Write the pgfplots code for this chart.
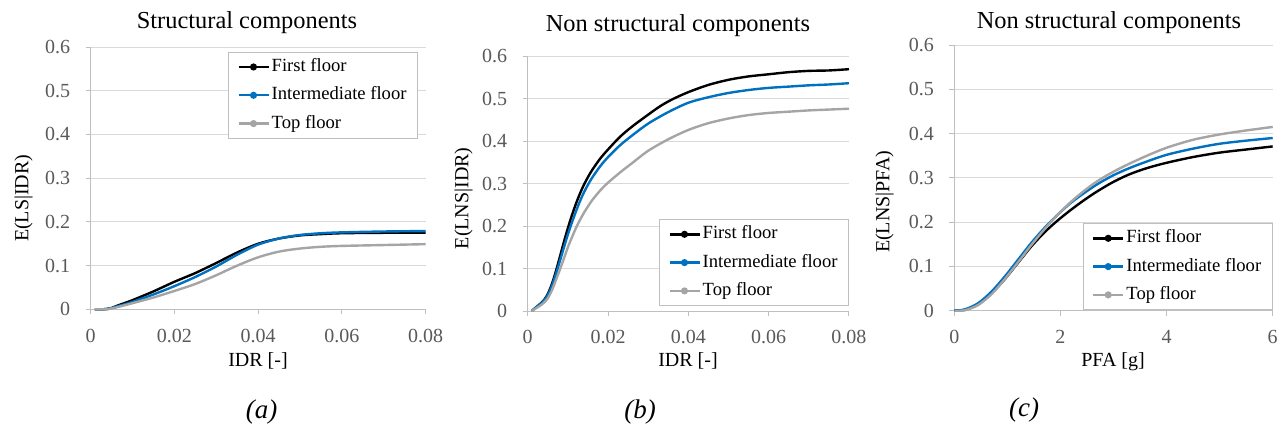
\documentclass[border=0pt]{standalone}
\usepackage{fontspec}
\setmainfont{Liberation Serif}
\usepackage{pgfplots}
\pgfplotsset{compat=1.18}
\definecolor{cblack}{HTML}{000000}
\definecolor{cblue}{HTML}{0070C0}
\definecolor{cgray}{HTML}{A5A5A5}
\definecolor{axgray}{HTML}{BFBFBF}
\definecolor{gridgray}{HTML}{D9D9D9}
\definecolor{ticklab}{HTML}{595959}

\pgfplotsset{
  panel/.style={
    scale only axis, anchor=south west,
    axis x line*=bottom, axis y line*=left,
    axis line style={draw=axgray, line width=1pt, -},
    ymin=0, ymax=0.6,
    ytick={0,0.1,0.2,0.3,0.4,0.5,0.6},
    yticklabels={0,0.1,0.2,0.3,0.4,0.5,0.6},
    scaled x ticks=false, scaled y ticks=false,
    ymajorgrids, grid style={draw=gridgray, line width=1pt},
    tick align=outside, major tick length=5pt,
    tick style={draw=axgray, line width=1pt},
    every tick label/.append style={font=\fontsize{20}{22}\selectfont, text=ticklab},
    yticklabel style={xshift=-12pt},
    xticklabel style={yshift=-11pt},
    /pgf/number format/assume math mode=true,
    clip=false,
    legend cell align=left,
    legend image code/.code={\draw[#1] (0pt,0pt) -- (30pt,0pt); \fill[#1] (15pt,0pt) circle (2.3pt);},
    legend style={draw=axgray, line width=1pt, fill=white, font=\fontsize{18.6}{20}\selectfont,
      inner xsep=9pt, inner ysep=3pt, row sep=5.3pt,
      nodes={inner ysep=3pt, inner xsep=2pt, text height=13pt, text depth=4pt}},
    every axis plot/.append style={line width=2.4pt, smooth},
  },
}

\begin{document}
\begin{tikzpicture}
\useasboundingbox (0,0) rectangle (1285pt,429pt);

% ---------------- (a)
\begin{axis}[panel, at={(90.7pt,119.7pt)}, width=335pt, height=262.3pt,
  xmin=0, xmax=0.08, xtick={0,0.02,0.04,0.06,0.08}, xticklabels={0,0.02,0.04,0.06,0.08},
  legend style={at={(0.977,0.981)}, anchor=north east}]
\addplot[color=cblack] coordinates {(0.001,0)(0.002,0)(0.003,0)(0.004,0.001)(0.005,0.003)(0.006,0.007)(0.008,0.014)(0.010,0.021)(0.015,0.041)(0.020,0.063)(0.025,0.083)(0.030,0.106)(0.035,0.13)(0.040,0.15)(0.045,0.162)(0.050,0.169)(0.055,0.172)(0.060,0.174)(0.070,0.175)(0.080,0.175)};
\addlegendentry{First floor}
\addplot[color=cblue] coordinates {(0.001,0)(0.002,0)(0.003,0)(0.004,0.001)(0.005,0.003)(0.006,0.006)(0.008,0.011)(0.010,0.017)(0.015,0.034)(0.020,0.053)(0.025,0.074)(0.030,0.098)(0.035,0.125)(0.040,0.148)(0.045,0.162)(0.050,0.17)(0.055,0.174)(0.060,0.176)(0.070,0.178)(0.080,0.179)};
\addlegendentry{Intermediate floor}
\addplot[color=cgray] coordinates {(0.001,0)(0.002,0)(0.003,0)(0.004,0)(0.005,0.002)(0.006,0.004)(0.008,0.009)(0.010,0.014)(0.015,0.027)(0.020,0.042)(0.025,0.058)(0.030,0.078)(0.035,0.1)(0.040,0.119)(0.045,0.132)(0.050,0.139)(0.055,0.143)(0.060,0.145)(0.070,0.147)(0.080,0.149)};
\addlegendentry{Top floor}
\end{axis}

% ---------------- (b)
\begin{axis}[panel, at={(527.7pt,118pt)}, width=321.3pt, height=255pt,
  xmin=0, xmax=0.08, xtick={0,0.02,0.04,0.06,0.08}, xticklabels={0,0.02,0.04,0.06,0.08},
  legend style={at={(1,0.02)}, anchor=south east}]
\addplot[color=cblack] coordinates {(0.001,0)(0.002,0.008)(0.003,0.016)(0.004,0.025)(0.005,0.04)(0.006,0.063)(0.007,0.093)(0.008,0.127)(0.009,0.162)(0.010,0.195)(0.011,0.225)(0.012,0.252)(0.013,0.276)(0.014,0.297)(0.015,0.315)(0.016,0.331)(0.018,0.358)(0.020,0.38)(0.023,0.41)(0.026,0.434)(0.030,0.462)(0.033,0.482)(0.036,0.498)(0.040,0.515)(0.045,0.532)(0.050,0.544)(0.055,0.552)(0.060,0.557)(0.065,0.562)(0.070,0.565)(0.075,0.566)(0.080,0.569)};
\addlegendentry{First floor}
\addplot[color=cblue] coordinates {(0.001,0)(0.002,0.008)(0.003,0.015)(0.004,0.024)(0.005,0.037)(0.006,0.058)(0.007,0.086)(0.008,0.117)(0.009,0.149)(0.010,0.18)(0.011,0.208)(0.012,0.234)(0.013,0.258)(0.014,0.279)(0.015,0.297)(0.016,0.313)(0.018,0.34)(0.020,0.362)(0.023,0.39)(0.026,0.413)(0.030,0.441)(0.035,0.468)(0.040,0.49)(0.045,0.503)(0.050,0.513)(0.055,0.52)(0.060,0.525)(0.065,0.528)(0.070,0.531)(0.075,0.533)(0.080,0.536)};
\addlegendentry{Intermediate floor}
\addplot[color=cgray] coordinates {(0.001,0)(0.002,0.006)(0.003,0.012)(0.004,0.019)(0.005,0.03)(0.006,0.048)(0.007,0.072)(0.008,0.097)(0.009,0.123)(0.010,0.15)(0.011,0.173)(0.012,0.195)(0.013,0.214)(0.014,0.231)(0.015,0.246)(0.016,0.26)(0.018,0.283)(0.020,0.302)(0.023,0.326)(0.026,0.348)(0.030,0.377)(0.035,0.404)(0.040,0.426)(0.045,0.442)(0.050,0.453)(0.055,0.461)(0.060,0.466)(0.065,0.469)(0.070,0.472)(0.075,0.474)(0.080,0.476)};
\addlegendentry{Top floor}
\end{axis}

% ---------------- (c)
\begin{axis}[panel, at={(954.3pt,118.3pt)}, width=318.4pt, height=265.7pt,
  xmin=0, xmax=6, xtick={0,2,4,6}, xticklabels={0,2,4,6},
  legend style={at={(1,0.003)}, anchor=south east}]
\addplot[color=cblack] coordinates {(0,0)(0.2,0.002)(0.45,0.014)(0.7,0.039)(0.95,0.071)(1.2,0.108)(1.45,0.145)(1.7,0.177)(1.95,0.204)(2.2,0.228)(2.45,0.25)(2.7,0.27)(3.0,0.291)(3.3,0.308)(3.63,0.322)(4.0,0.334)(4.5,0.347)(5.0,0.357)(5.5,0.364)(6.0,0.371)};
\addlegendentry{First floor}
\addplot[color=cblue] coordinates {(0,0)(0.2,0.003)(0.45,0.017)(0.7,0.043)(0.95,0.077)(1.2,0.115)(1.45,0.153)(1.7,0.187)(1.95,0.217)(2.2,0.244)(2.45,0.266)(2.7,0.286)(3.0,0.306)(3.3,0.322)(3.63,0.337)(4.0,0.352)(4.5,0.366)(5.0,0.377)(5.5,0.384)(6.0,0.39)};
\addlegendentry{Intermediate floor}
\addplot[color=cgray] coordinates {(0,0)(0.2,0.001)(0.45,0.013)(0.7,0.037)(0.95,0.071)(1.2,0.109)(1.45,0.148)(1.7,0.184)(1.95,0.217)(2.2,0.246)(2.45,0.271)(2.7,0.293)(3.0,0.314)(3.3,0.332)(3.63,0.35)(4.0,0.368)(4.5,0.386)(5.0,0.398)(5.5,0.407)(6.0,0.415)};
\addlegendentry{Top floor}
\end{axis}

% titles
\node[anchor=base, font=\fontsize{24.4}{26}\selectfont] at (247pt,400.7pt) {Structural components};
\node[anchor=base, font=\fontsize{24.4}{26}\selectfont] at (678pt,397.3pt) {Non structural components};
\node[anchor=base, font=\fontsize{24.4}{26}\selectfont] at (1109pt,400.7pt) {Non structural components};
% x labels
\node[anchor=base, font=\fontsize{20}{22}\selectfont] at (258pt,62.3pt) {IDR [-]};
\node[anchor=base, font=\fontsize{20}{22}\selectfont] at (688pt,62.3pt) {IDR [-]};
\node[anchor=base, font=\fontsize{20}{22}\selectfont] at (1113pt,63pt) {PFA [g]};
% y labels
\node[anchor=base, rotate=90, font=\fontsize{20}{22}\selectfont] at (28.3pt,230.7pt) {E(LS|IDR)};
\node[anchor=base, rotate=90, font=\fontsize{20}{22}\selectfont] at (468.3pt,230.7pt) {E(LNS|IDR)};
\node[anchor=base, rotate=90, font=\fontsize{20}{22}\selectfont] at (889.3pt,227.3pt) {E(LNS|PFA)};
% sub labels
\node[anchor=base, font=\fontsize{27}{30}\selectfont\itshape] at (261.7pt,11pt) {(a)};
\node[anchor=base, font=\fontsize{27}{30}\selectfont\itshape] at (640pt,11pt) {(b)};
\node[anchor=base, font=\fontsize{27}{30}\selectfont\itshape] at (1024pt,12.3pt) {(c)};
\end{tikzpicture}
\end{document}
